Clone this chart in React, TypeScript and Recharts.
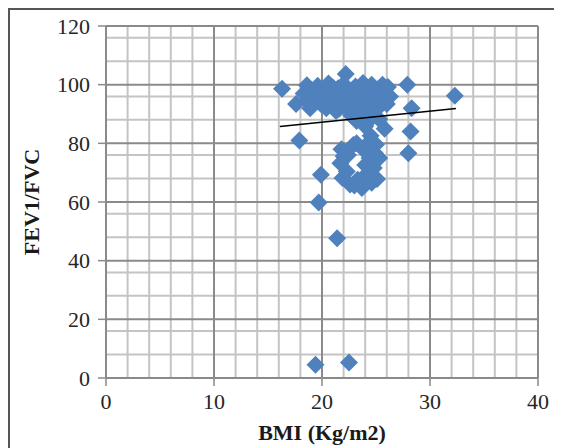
import { ScatterChart, Scatter, XAxis, YAxis, CartesianGrid } from 'recharts';

// BMI (x) and FEV1/FVC (y)
const bmi = [
  16.3, 17.6, 17.9, 19.9, 19.7, 21.4, 19.4, 22.5, 27.9, 28.3, 28.2, 28.0, 32.3, 22.2,
  18.3, 18.6, 18.9, 19.2, 19.6, 19.9, 20.2, 20.6, 20.9, 21.1, 21.3, 21.5, 21.8, 22.0,
  22.3, 22.5, 22.7, 22.9, 23.1, 23.2, 23.4, 23.6, 23.8, 23.9, 24.1, 24.3, 24.4, 24.6,
  24.8, 25.0, 25.2, 25.4, 25.6, 25.8, 26.0, 26.3, 26.1, 24.6, 21.6,
  19.0, 20.0, 20.4, 21.0, 18.6, 22.0, 22.8, 23.0, 19.4, 20.7,
  24.0, 24.5, 25.0, 25.8, 25.3, 24.1,
  21.8, 21.7, 21.9, 22.4, 22.3, 22.6, 22.9, 23.3, 23.7, 23.9, 24.0, 24.0, 24.4, 24.6,
  24.8, 25.1, 25.3, 23.2, 22.0, 23.0, 24.4, 24.9,
];
const fevFvc = [
  98.6, 93.4, 81.0, 69.3, 59.8, 47.6, 4.5, 5.3, 100.0, 92.0, 84.0, 76.6, 96.2, 103.6,
  97.0, 99.8, 92.0, 95.8, 99.6, 93.4, 97.2, 100.4, 93.0, 96.2, 91.0, 98.8, 94.4, 100.2,
  92.0, 97.0, 89.6, 95.0, 99.4, 87.6, 93.0, 97.4, 100.6, 90.6, 95.4, 98.6, 92.8, 100.0,
  96.4, 91.4, 98.4, 94.4, 100.0, 97.0, 93.4, 96.0, 99.2, 88.6, 91.8,
  98.0, 95.5, 92.0, 99.0, 94.5, 97.0, 92.0, 96.5, 97.4, 94.2,
  85.8, 82.6, 79.6, 85.0, 88.2, 79.4,
  78.0, 73.2, 68.2, 76.0, 70.4, 66.0, 79.4, 67.6, 64.8, 77.6, 72.6, 69.0, 75.0, 66.6,
  71.6, 67.8, 75.0, 80.0, 75.6, 65.6, 78.0, 76.6,
];

// linear trend line ends
const trendBmi = [16.1, 32.4];
const trendRatio = [85.7, 91.9];

const xTicks = [0, 10, 20, 30, 40];
const yTicks = [0, 20, 40, 60, 80, 100, 120];
const xMinor = [2, 4, 6, 8, 12, 14, 16, 18, 22, 24, 26, 28, 32, 34, 36, 38];
const yMinor = [
  4, 8, 12, 16, 24, 28, 32, 36, 44, 48, 52, 56, 64, 68, 72, 76, 84, 88, 92, 96, 104, 108, 112, 116,
];

const points = bmi.map((x, i) => ({ x, y: fevFvc[i] }));
const trend = trendBmi.map((x, i) => ({ x, y: trendRatio[i] }));

const font = '"Liberation Serif", "Times New Roman", serif';
const tickStyle = { fill: '#262626', fontSize: 22, fontFamily: font };

function Diamond(props: any) {
  const { cx, cy } = props;
  if (cx == null || cy == null) return <g />;
  const r = 9;
  return (
    <polygon
      points={`${cx},${cy - r} ${cx + r},${cy} ${cx},${cy + r} ${cx - r},${cy}`}
      fill="#4F81BD"
    />
  );
}

export default function App() {
  return (
    <div style={{ width: 544, height: 444, border: '2px solid #555' }}>
      <ScatterChart width={544} height={444} margin={{ top: 16, right: 16, bottom: 36, left: 46 }}>
        <CartesianGrid
          stroke="#c4c4c4"
          strokeWidth={2}
          horizontalValues={yMinor}
          verticalValues={xMinor}
        />
        <CartesianGrid stroke="#8a8a8a" strokeWidth={2} />
        <XAxis
          type="number"
          dataKey="x"
          domain={[0, 40]}
          ticks={xTicks}
          height={40}
          tickSize={8}
          tickMargin={7}
          stroke="#8a8a8a"
          strokeWidth={1.5}
          tick={tickStyle}
          label={{
            content: ({ viewBox }: any) => (
              <text
                x={viewBox.x + viewBox.width / 2}
                y={viewBox.y + 62}
                textAnchor="middle"
                fontFamily={font}
                fontWeight="bold"
                fontSize={22}
                fill="#1a1a1a"
              >
                BMI (Kg/m2)
              </text>
            ),
          }}
        />
        <YAxis
          type="number"
          dataKey="y"
          domain={[0, 120]}
          ticks={yTicks}
          width={50}
          tickSize={8}
          tickMargin={8}
          stroke="#8a8a8a"
          strokeWidth={1.5}
          tick={tickStyle}
          label={{
            content: ({ viewBox }: any) => {
              const cx = viewBox.x - 25;
              const cy = viewBox.y + viewBox.height / 2;
              return (
                <text
                  x={cx}
                  y={cy}
                  transform={`rotate(-90 ${cx} ${cy})`}
                  textAnchor="middle"
                  dominantBaseline="central"
                  fontFamily={font}
                  fontWeight="bold"
                  fontSize={22}
                  fill="#1a1a1a"
                >
                  FEV1/FVC
                </text>
              );
            },
          }}
        />
        <Scatter data={points} shape={Diamond} isAnimationActive={false} />
        <Scatter
          data={trend}
          line={{ stroke: '#000', strokeWidth: 1.5 }}
          shape={() => <g />}
          isAnimationActive={false}
        />
      </ScatterChart>
    </div>
  );
}
